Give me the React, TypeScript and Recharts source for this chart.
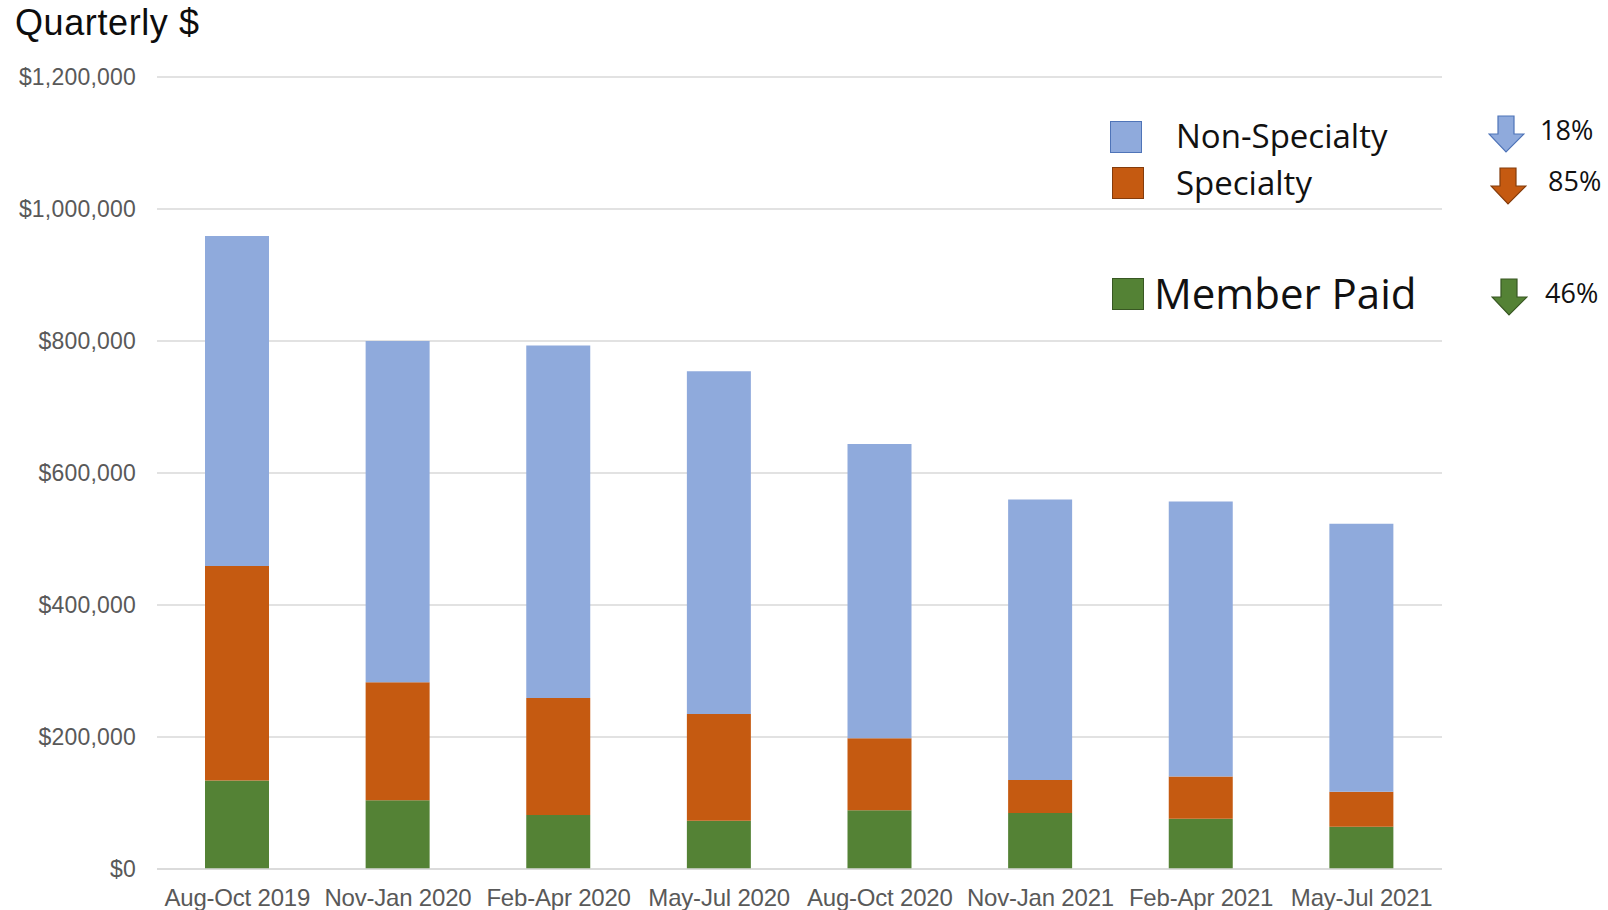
import React from 'react'
import { BarChart, Bar, XAxis, YAxis, CartesianGrid } from 'recharts'

const quarters = [
  'Aug-Oct 2019', 'Nov-Jan 2020', 'Feb-Apr 2020', 'May-Jul 2020',
  'Aug-Oct 2020', 'Nov-Jan 2021', 'Feb-Apr 2021', 'May-Jul 2021',
]
const memberPaid = [134000, 104000, 82000, 73000, 89000, 85000, 76000, 64000]
const specialty = [325000, 179000, 177000, 162000, 109000, 50000, 64000, 53000]
const nonSpecialty = [500000, 517000, 534000, 519000, 446000, 425000, 417000, 406000]
const yTicks = [0, 200000, 400000, 600000, 800000, 1000000, 1200000]

const legendNames = ['Non-Specialty', 'Specialty', 'Member Paid']
const changeLabels = ['18%', '85%', '46%']

const COLORS = {
  nonSpecialty: '#8faadc',
  specialty: '#c55a11',
  member: '#548235',
}
const BORDERS = {
  nonSpecialty: '#4f74b8',
  specialty: '#843c0c',
  member: '#385723',
}

const data = quarters.map((q, i) => ({
  quarter: q,
  member: memberPaid[i],
  specialty: specialty[i],
  nonSpecialty: nonSpecialty[i],
}))

const money = (v: number) => '$' + v.toLocaleString('en-US')

const ARIAL = '"Liberation Sans", Arial, sans-serif'
const CALIBRI = '"Open Sans", Lato, sans-serif'

// block arrow pointing down, 35 x 36
const DownArrow = ({ x, y, fill, stroke }: { x: number, y: number, fill: string, stroke: string }) => (
  <svg style={{ position: 'absolute', left: x, top: y }} width={37} height={38}>
    <polygon
      points="10,1 26,1 26,19 36,19 18,37 1,19 10,19"
      fill={fill}
      stroke={stroke}
      strokeWidth={1.2}
    />
  </svg>
)

const Swatch = ({ x, y, color, border }: { x: number, y: number, color: string, border: string }) => (
  <div style={{
    position: 'absolute', left: x, top: y, width: 30, height: 30,
    background: color, border: `1.5px solid ${border}`,
  }} />
)

const Note = ({ x, y, size, lh, children }: { x: number, y: number, size: number, lh: number, children: React.ReactNode }) => (
  <div style={{
    position: 'absolute', left: x, top: y, fontFamily: CALIBRI, fontSize: size,
    color: '#111', lineHeight: `${lh}px`, whiteSpace: 'nowrap',
  }}>
    {children}
  </div>
)

export default function App() {
  return (
    <div style={{ position: 'absolute', left: 0, top: 0, width: 1608, height: 910, background: '#fff' }}>
      <div style={{
        position: 'absolute', left: 15, top: 1, fontFamily: ARIAL, fontSize: 36,
        letterSpacing: 0.6, color: '#0d0d0d', lineHeight: '44px',
      }}>
        Quarterly $
      </div>

      <BarChart
        width={1608}
        height={910}
        data={data}
        margin={{ top: 77, right: 166, bottom: 11, left: 17 }}
      >
        <CartesianGrid vertical={false} stroke="#d9d9d9" strokeWidth={1.5} />
        <XAxis
          dataKey="quarter"
          axisLine={{ stroke: '#d9d9d9', strokeWidth: 1.5 }}
          tickLine={false}
          tickSize={0}
          tickMargin={20}
          interval={0}
          height={30}
          tick={{ fill: '#595959', fontSize: 24, fontFamily: ARIAL, letterSpacing: -0.2 }}
        />
        <YAxis
          domain={[0, 1200000]}
          ticks={yTicks}
          tickFormatter={money}
          axisLine={false}
          tickLine={false}
          tickSize={0}
          tickMargin={21}
          width={140}
          tick={{ fill: '#595959', fontSize: 23, fontFamily: ARIAL, letterSpacing: 0.2 }}
        />
        <Bar dataKey="member" name="Member Paid" stackId="a" fill={COLORS.member} barSize={64} isAnimationActive={false} />
        <Bar dataKey="specialty" name="Specialty" stackId="a" fill={COLORS.specialty} barSize={64} isAnimationActive={false} />
        <Bar dataKey="nonSpecialty" name="Non-Specialty" stackId="a" fill={COLORS.nonSpecialty} barSize={64} isAnimationActive={false} />
      </BarChart>

      {/* legend */}
      <Swatch x={1110} y={121} color={COLORS.nonSpecialty} border={BORDERS.nonSpecialty} />
      <Swatch x={1112} y={167} color={COLORS.specialty} border={BORDERS.specialty} />
      <Swatch x={1112} y={278} color={COLORS.member} border={BORDERS.member} />
      <Note x={1176} y={116} size={33} lh={40}>{legendNames[0]}</Note>
      <Note x={1176} y={163} size={33} lh={40}>{legendNames[1]}</Note>
      <Note x={1154} y={269} size={42} lh={48}>{legendNames[2]}</Note>

      {/* change since first quarter */}
      <DownArrow x={1488} y={115} fill={COLORS.nonSpecialty} stroke={BORDERS.nonSpecialty} />
      <DownArrow x={1490} y={167} fill={COLORS.specialty} stroke={BORDERS.specialty} />
      <DownArrow x={1491} y={278} fill={COLORS.member} stroke={BORDERS.member} />
      <Note x={1540} y={114} size={27} lh={32}>{changeLabels[0]}</Note>
      <Note x={1548} y={165} size={27} lh={32}>{changeLabels[1]}</Note>
      <Note x={1545} y={277} size={27} lh={32}>{changeLabels[2]}</Note>
    </div>
  )
}
